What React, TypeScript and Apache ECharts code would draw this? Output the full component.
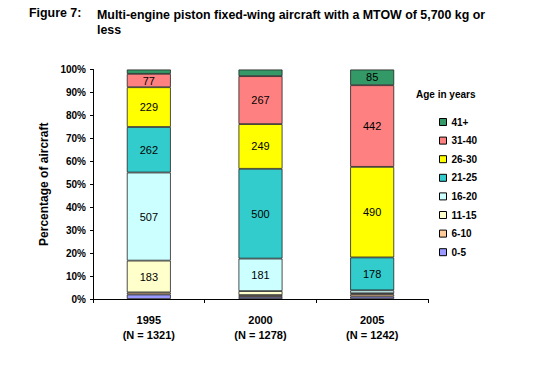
import React, { useEffect, useRef } from "react";
import * as echarts from "echarts";

const years = ["1995", "2000", "2005"];
const totals = [1321, 1278, 1242];
const ageGroups = ["0-5", "6-10", "11-15", "16-20", "21-25", "26-30", "31-40", "41+"];
const colors = ["#9999FF", "#FFCC99", "#FFFFCC", "#CCFFFF", "#33CCCC", "#FFFF00", "#FF8080", "#339966"];
// counts per age group, per year (1995, 2000, 2005)
const counts0to5 = [26, 12, 13];
const counts6to10 = [12, 10, 12];
const counts11to15 = [183, 22, 6];
const counts16to20 = [507, 181, 16];
const counts21to25 = [262, 500, 178];
const counts26to30 = [229, 249, 490];
const counts31to40 = [77, 267, 442];
const counts41plus = [25, 37, 85];
// which segments carry a visible label
const labelled = [
  [false, false, false],
  [false, false, false],
  [true, false, false],
  [true, true, false],
  [true, true, true],
  [true, true, true],
  [true, true, true],
  [false, false, true],
];
const yTicks = [0, 10, 20, 30, 40, 50, 60, 70, 80, 90, 100];

const FONT = "Arial, 'Liberation Sans', sans-serif";

export default function App() {
  const ref = useRef<HTMLDivElement>(null);
  useEffect(() => {
    if (!ref.current) return;
    const chart = echarts.init(ref.current, null, { renderer: "svg" });
    const allCounts = [counts0to5, counts6to10, counts11to15, counts16to20, counts21to25, counts26to30, counts31to40, counts41plus];
    const series = ageGroups.map((g, gi) => ({
      name: g,
      type: "bar",
      stack: "total",
      barWidth: 44,
      itemStyle: { color: colors[gi], borderColor: "#222", borderWidth: 0.8 },
      emphasis: { disabled: true },
      data: allCounts[gi].map((c, yi) => ({
        value: (c / totals[yi]) * 100,
        label: {
          show: labelled[gi][yi],
          position: "inside",
          formatter: String(c),
          color: "#000",
          fontSize: 11,
          fontFamily: FONT,
        },
      })),
    }));
    chart.setOption({
      animation: false,
      textStyle: { fontFamily: FONT },
      grid: { left: 93, right: 127, top: 69.5, bottom: 71, containLabel: false },
      legend: {
        orient: "vertical",
        left: 434,
        top: 111,
        itemWidth: 7,
        itemHeight: 7,
        itemGap: 6.6,
        icon: "rect",
        data: ageGroups.slice().reverse(),
        itemStyle: { borderColor: "#000", borderWidth: 1 },
        textStyle: { fontSize: 10, fontWeight: "bold", color: "#000", fontFamily: FONT, lineHeight: 12 },
        selectedMode: false,
      },
      xAxis: {
        type: "category",
        data: years.map((y, i) => `${y}\n(N = ${totals[i]})`),
        axisLine: { lineStyle: { color: "#000", width: 1 } },
        axisTick: { show: true, length: 4, lineStyle: { color: "#000" }, alignWithLabel: false },
        axisLabel: { color: "#000", fontWeight: "bold", fontSize: 11, lineHeight: 15, margin: 13, fontFamily: FONT },
      },
      yAxis: {
        type: "value",
        min: 0,
        max: 100,
        interval: 10,
        name: "Percentage of aircraft",
        nameLocation: "middle",
        nameGap: 41,
        nameTextStyle: { color: "#000", fontWeight: "bold", fontSize: 12, fontFamily: FONT },
        axisLine: { show: true, lineStyle: { color: "#000", width: 1 } },
        axisTick: { show: true, length: 3, lineStyle: { color: "#000" } },
        splitLine: { show: false },
        axisLabel: {
          color: "#000",
          fontWeight: "bold",
          fontSize: 10,
          margin: 7,
          fontFamily: FONT,
          formatter: (v: number) => (yTicks.includes(v) ? `${v}%` : ""),
        },
      },
      graphic: [
        {
          type: "text",
          left: 29,
          top: 7,
          style: { text: "Figure 7:", fontWeight: "bold", fontSize: 12.4, fill: "#000", fontFamily: FONT },
        },
        {
          type: "text",
          left: 97,
          top: 7,
          style: {
            text: "Multi-engine piston fixed-wing aircraft with a MTOW of 5,700 kg or\nless",
            fontWeight: "bold",
            fontSize: 12.4,
            lineHeight: 15,
            fill: "#000",
            fontFamily: FONT,
          },
        },
        {
          type: "text",
          left: 416,
          top: 89,
          style: { text: "Age in years", fontWeight: "bold", fontSize: 10, fill: "#000", fontFamily: FONT },
        },
      ],
      series,
    });
    return () => chart.dispose();
  }, []);
  return <div ref={ref} style={{ position: "fixed", left: 0, top: 0, width: 555, height: 370, background: "#fff" }} />;
}
